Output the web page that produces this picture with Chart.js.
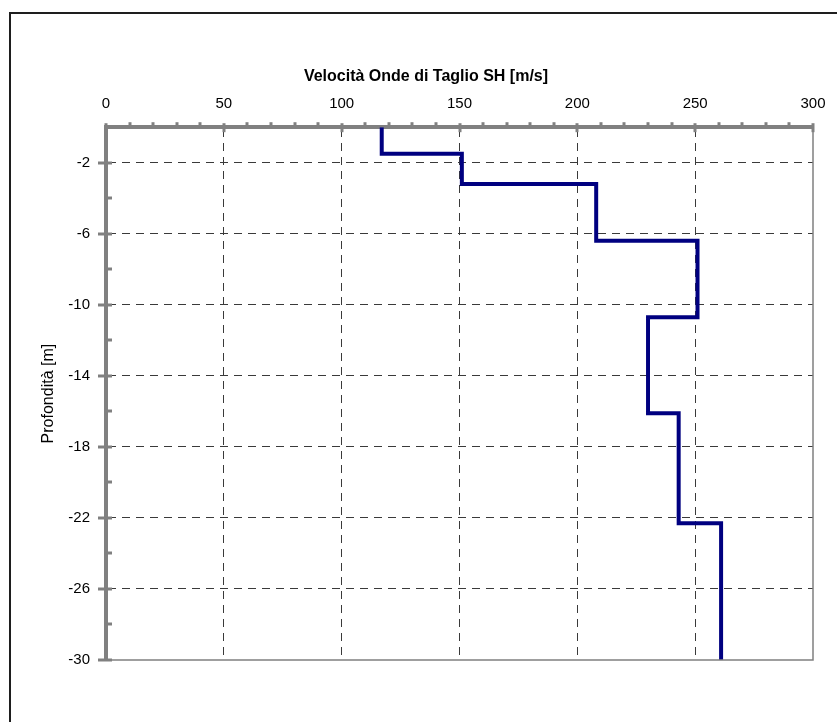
<!DOCTYPE html>
<html>
<head>
<meta charset="utf-8">
<script src="https://cdn.jsdelivr.net/npm/chart.js@4.4.0/dist/chart.umd.min.js"></script>
<style>
  html, body { margin: 0; padding: 0; background: #fff; overflow: hidden; }
  #frame { position: absolute; left: 9px; top: 12px; width: 1000px; height: 1000px; border: 2px solid #1e1e1e; }
  #wrap { position: absolute; left: 0; top: 0; width: 837px; height: 722px; }
</style>
</head>
<body>
<div id="frame"></div>
<div id="wrap"><canvas id="vsChart" width="837" height="722"></canvas></div>
<script>
// layers of the Vs profile (depth in m, velocity in m/s)
const velocities = [117, 151, 208, 251, 230, 243, 261];
const depthTop = [0, 1.5, 3.2, 6.4, 10.7, 16.1, 22.3];
const depthBottom = [1.5, 3.2, 6.4, 10.7, 16.1, 22.3, 30];

const xTicks = [0, 50, 100, 150, 200, 250, 300];
const xMinorTicks = [10, 20, 30, 40, 60, 70, 80, 90, 110, 120, 130, 140, 160, 170, 180, 190,
  210, 220, 230, 240, 260, 270, 280, 290];
const yTicks = [-30, -26, -22, -18, -14, -10, -6, -2];
const yMinorTicks = [-28, -24, -20, -16, -12, -8, -4];

const profile = [];
velocities.forEach((v, i) => {
  profile.push({ x: v, y: -depthTop[i] });
  profile.push({ x: v, y: -depthBottom[i] });
});

const axisGray = "#808080";
const gridDark = "#3a3a3a";

// excel-style tick marks + thin right/bottom edges
const axisDecor = {
  id: "axisDecor",
  afterDraw(chart) {
    const c = chart.ctx;
    const xs = chart.scales.x, ys = chart.scales.y;
    const a = chart.chartArea;
    c.save();
    c.strokeStyle = axisGray;
    c.lineWidth = 1.5;
    c.beginPath();
    c.moveTo(a.right, a.top);
    c.lineTo(a.right, a.bottom);
    c.lineTo(a.left, a.bottom);
    c.stroke();

    c.lineWidth = 3;
    yTicks.forEach(v => {
      const y = Math.round(ys.getPixelForValue(v));
      c.beginPath(); c.moveTo(a.left - 8, y); c.lineTo(a.left + 6, y); c.stroke();
    });
    yMinorTicks.forEach(v => {
      const y = Math.round(ys.getPixelForValue(v));
      c.beginPath(); c.moveTo(a.left, y); c.lineTo(a.left + 6, y); c.stroke();
    });
    xTicks.forEach(v => {
      const x = Math.round(xs.getPixelForValue(v));
      c.beginPath(); c.moveTo(x, a.top - 4); c.lineTo(x, a.top + 5); c.stroke();
    });
    xMinorTicks.forEach(v => {
      const x = Math.round(xs.getPixelForValue(v));
      c.beginPath(); c.moveTo(x, a.top - 5); c.lineTo(x, a.top); c.stroke();
    });
    c.restore();
  }
};

const ctx = document.getElementById("vsChart").getContext("2d");
new Chart(ctx, {
  type: "scatter",
  data: {
    datasets: [{
      label: "Vs",
      data: profile,
      showLine: true,
      borderColor: "#000080",
      backgroundColor: "#000080",
      borderWidth: 4,
      borderJoinStyle: "miter",
      pointRadius: 0,
      tension: 0
    }]
  },
  options: {
    responsive: false,
    animation: false,
    devicePixelRatio: 1,
    layout: { padding: { left: 39, right: 24, top: 0, bottom: 62 } },
    plugins: {
      legend: { display: false },
      tooltip: { enabled: false },
      title: {
        display: true,
        text: "Velocità Onde di Taglio SH [m/s]",
        color: "#000",
        font: { family: "Liberation Sans, Arial", size: 16, weight: "bold" },
        padding: { top: 67, bottom: 0 }
      }
    },
    scales: {
      x: {
        type: "linear",
        position: "top",
        min: 0,
        max: 300,
        afterBuildTicks: s => { s.ticks = xTicks.map(v => ({ value: v })); },
        afterFit: s => { s.height = 41; s.paddingLeft = 0; s.paddingRight = 0; },
        ticks: {
          color: "#000",
          padding: 14,
          font: { family: "Liberation Sans, Arial", size: 15 }
        },
        grid: {
          drawTicks: false,
          color: c => (c.tick && (c.tick.value === 0 || c.tick.value === 300)) ? "rgba(0,0,0,0)" : gridDark,
          lineWidth: 1
        },
        border: { display: true, color: axisGray, width: 4, dash: c => c.tick ? [8, 6] : [] }
      },
      y: {
        type: "linear",
        position: "left",
        min: -30,
        max: 0,
        afterBuildTicks: s => { s.ticks = yTicks.map(v => ({ value: v })); },
        afterFit: s => { s.width = 67; },
        title: {
          display: true,
          text: "Profondità [m]",
          color: "#000",
          font: { family: "Liberation Sans, Arial", size: 16 },
          padding: 0
        },
        ticks: {
          color: "#000",
          padding: 16,
          font: { family: "Liberation Sans, Arial", size: 15 }
        },
        grid: {
          drawTicks: false,
          color: c => (c.tick && c.tick.value === -30) ? "rgba(0,0,0,0)" : gridDark,
          lineWidth: 1
        },
        border: { display: true, color: axisGray, width: 4, dash: c => c.tick ? [8, 6] : [] }
      }
    }
  },
  plugins: [axisDecor]
});
</script>
</body>
</html>
